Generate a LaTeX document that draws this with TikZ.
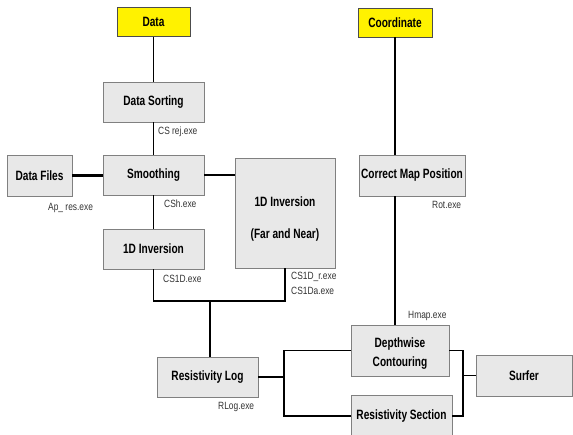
\documentclass[tikz,border=0pt]{standalone}
\usepackage{fontspec}
\setmainfont{Liberation Sans}
\newfontfamily\boxfont[FakeStretch=0.75]{Liberation Sans}
\newfontfamily\exefont[FakeStretch=0.8]{Liberation Sans}
\begin{document}
\begin{tikzpicture}[x=1pt,y=-1pt,
  box/.style={draw=black!50, fill=black!9, line width=0.8pt, inner sep=0pt, font=\boxfont\fontsize{13.5}{16}\selectfont\bfseries, align=center},
  ybox/.style={box, fill=yellow, draw=black!70},
  btext/.style={inner sep=0pt, font=\boxfont\fontsize{13.5}{16}\selectfont\bfseries},
  exe/.style={anchor=west, inner sep=0pt, text=black!80, font=\exefont\fontsize{10.5}{12}\selectfont},
  thin/.style={line width=1.3pt},
  mid/.style={line width=1.8pt},
  thick/.style={line width=2.6pt}]
\useasboundingbox (0,0) rectangle (573,434);
\begin{scope}
\clip (0,0) rectangle (573,434);
% nodes
\node[ybox, minimum width=73pt, minimum height=29pt] (data) at (153.5,22) {Data};
\node[box, minimum width=101pt, minimum height=40pt] (sort) at (153.5,102) {Data Sorting};
\node[box, minimum width=101pt, minimum height=40pt] (smooth) at (153.5,175) {Smoothing};
\node[box, minimum width=65pt, minimum height=41pt] (files) at (39.5,175.5) {Data Files};
\node[box, minimum width=101pt, minimum height=40pt] (inv) at (153.5,249) {1D Inversion};
\node[box, minimum width=100pt, minimum height=110pt] (far) at (285,213) {};
\node[btext] (farA) at (285,202) {1D Inversion};
\node[btext] (farB) at (285,235) {(Far and Near)};
\node[box, minimum width=101pt, minimum height=40pt] (rlog) at (207.5,377) {Resistivity Log};
\node[ybox, minimum width=74pt, minimum height=29pt] (coord) at (395,22.5) {Coordinate};
\node[box, minimum width=106pt, minimum height=41pt] (cmp) at (412,175.5) {Correct Map Position};
\node[box, minimum width=98pt, minimum height=51pt] (depth) at (400,350.5) {};
\node[btext] (depA) at (400,344) {Depthwise};
\node[btext] (depB) at (400,363) {Contouring};
\node[box, minimum width=101pt, minimum height=42pt] (rsec) at (401.5,416) {Resistivity Section};
\node[box, minimum width=96pt, minimum height=41pt] (surfer) at (524,375.5) {Surfer};
% junction coordinates
\coordinate (j1) at (210,301);
\coordinate (b) at (284,374);
\coordinate (s) at (463,375.5);
% connectors
\draw[thin] (data.south) -- (sort.north);
\draw[thin] (sort.south) -- (smooth.north);
\draw[thick] (files.east) -- (files.east -| smooth.west);
\draw[thick] (smooth.east) -- (smooth.east -| far.west);
\draw[thin] (smooth.south) -- (inv.north);
\draw[mid] (inv.south) |- (j1) -| (far.south);
\draw[mid] (j1) -- (j1 |- rlog.north);
\draw[thick] (rlog.east) -- (b |- rlog.east);
\draw[mid] (depth.west) -| (b) |- (rsec.west);
\draw[thin] (coord.south) -- (coord.south |- cmp.north);
\draw[thin] (coord.south |- cmp.south) -- (coord.south |- depth.north);
\draw[mid] (depth.east) -| (s) |- (rsec.east);
\draw[mid] (s) -- (surfer.west);
% program labels
\node[exe] (l1) at (158,132) {CS rej.exe};
\node[exe] (l2) at (164,204) {CSh.exe};
\node[exe] (l3) at (48,208) {Ap\_ res.exe};
\node[exe] (l4) at (163,279) {CS1D.exe};
\node[exe] (l5) at (291,277) {CS1D\_r.exe};
\node[exe] (l6) at (291,291) {CS1Da.exe};
\node[exe] (l7) at (218,407) {RLog.exe};
\node[exe] (l8) at (432,205) {Rot.exe};
\node[exe] (l9) at (408,316) {Hmap.exe};
\end{scope}
\end{tikzpicture}
\end{document}
